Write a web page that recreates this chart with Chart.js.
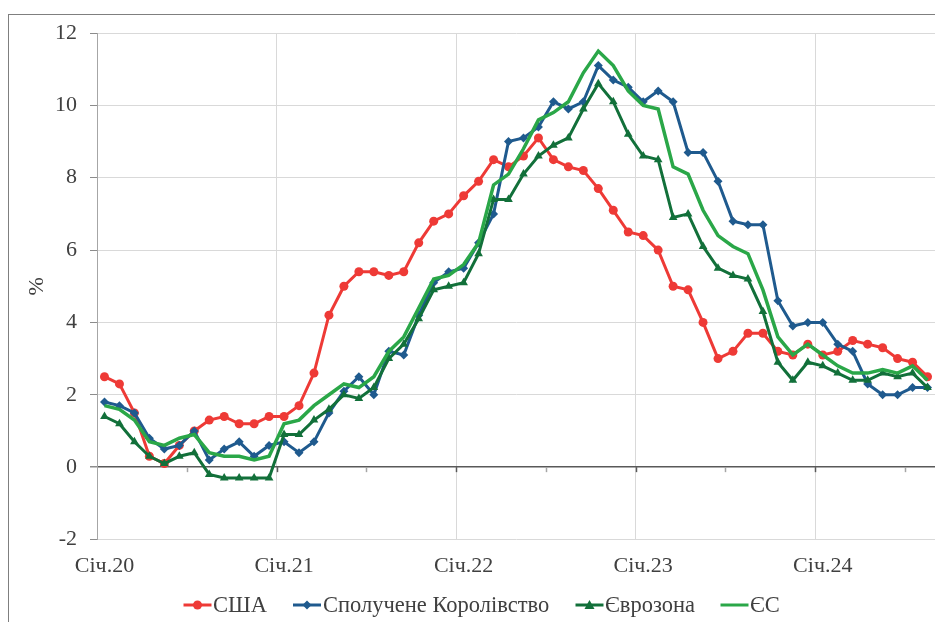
<!DOCTYPE html>
<html><head><meta charset="utf-8">
<script src="https://cdn.jsdelivr.net/npm/chart.js@4.4.1/dist/chart.umd.min.js"></script>
<style>
html,body{margin:0;padding:0;background:#fff;overflow:hidden}
#wrap{position:relative;width:935px;height:622px;overflow:hidden}
#c{position:absolute;left:0;top:0}
#frame{position:absolute;left:8px;top:14px;width:1000px;height:1000px;border-left:1px solid #7f7f7f;border-top:1px solid #7f7f7f;pointer-events:none}
.lg{position:absolute;top:592px;height:26px;display:flex;align-items:center;font:22.5px "Liberation Serif",serif;color:#404040;white-space:nowrap}
.lg svg{margin-right:1px}
</style></head>
<body><div id="wrap"><canvas id="c" width="940" height="622"></canvas><div id="frame"></div><div id="legend"></div></div>
<script>
const monthNames = ['Січ','Лют','Бер','Кві','Тра','Чер','Лип','Сер','Вер','Жов','Лис','Гру'];
const years = ['20','21','22','23','24'];
const categories = [];
years.forEach(y => monthNames.forEach(m => categories.push(m + '.' + y)));
categories.length = 56; // Січ.20 … Сер.24

const seriesNames = ['США','Сполучене Королівство','Єврозона','ЄС'];

const usa = [2.5,2.3,1.5,0.3,0.1,0.6,1.0,1.3,1.4,1.2,1.2,1.4,
             1.4,1.7,2.6,4.2,5.0,5.4,5.4,5.3,5.4,6.2,6.8,7.0,
             7.5,7.9,8.5,8.3,8.6,9.1,8.5,8.3,8.2,7.7,7.1,6.5,
             6.4,6.0,5.0,4.9,4.0,3.0,3.2,3.7,3.7,3.2,3.1,3.4,
             3.1,3.2,3.5,3.4,3.3,3.0,2.9,2.5];
const uk = [1.8,1.7,1.5,0.8,0.5,0.6,1.0,0.2,0.5,0.7,0.3,0.6,
            0.7,0.4,0.7,1.5,2.1,2.5,2.0,3.2,3.1,4.2,5.1,5.4,
            5.5,6.2,7.0,9.0,9.1,9.4,10.1,9.9,10.1,11.1,10.7,10.5,
            10.1,10.4,10.1,8.7,8.7,7.9,6.8,6.7,6.7,4.6,3.9,4.0,
            4.0,3.4,3.2,2.3,2.0,2.0,2.2,2.2];
const eurozone = [1.4,1.2,0.7,0.3,0.1,0.3,0.4,-0.2,-0.3,-0.3,-0.3,-0.3,
                  0.9,0.9,1.3,1.6,2.0,1.9,2.2,3.0,3.4,4.1,4.9,5.0,
                  5.1,5.9,7.4,7.4,8.1,8.6,8.9,9.1,9.9,10.6,10.1,9.2,
                  8.6,8.5,6.9,7.0,6.1,5.5,5.3,5.2,4.3,2.9,2.4,2.9,
                  2.8,2.6,2.4,2.4,2.6,2.5,2.6,2.2];
const eu = [1.7,1.6,1.3,0.7,0.6,0.8,0.9,0.4,0.3,0.3,0.2,0.3,
            1.2,1.3,1.7,2.0,2.3,2.2,2.5,3.2,3.6,4.4,5.2,5.3,
            5.6,6.2,7.8,8.1,8.8,9.6,9.8,10.1,10.9,11.5,11.1,10.4,
            10.0,9.9,8.3,8.1,7.1,6.4,6.1,5.9,4.9,3.6,3.1,3.4,
            3.1,2.8,2.6,2.6,2.7,2.6,2.8,2.4];

const yTicks = [-2,0,2,4,6,8,10,12];

const colors = ['#ee3a36','#1f5a8e','#12703a','#2aa748'];
const FONT = 'Liberation Serif';
const TXT = '#404040';

const zeroTicks = {
  id: 'zeroTicks',
  beforeDatasetsDraw(chart) {
    const xs = chart.scales.x, ys = chart.scales.y, c = chart.ctx;
    const half = (xs.getPixelForValue(1) - xs.getPixelForValue(0)) / 2;
    const y0 = ys.getPixelForValue(0);
    c.save();
    c.lineWidth = 1.5;
    for (let i = 6; i < categories.length; i += 6) {
      const x = Math.round(xs.getPixelForValue(i) - half) + 0.5;
      c.strokeStyle = (i % 12 === 0) ? '#595959' : '#a6a6a6';
      c.beginPath(); c.moveTo(x, y0); c.lineTo(x, y0 + 5); c.stroke();
    }
    c.restore();
  }
};

new Chart(document.getElementById('c').getContext('2d'), {
  type: 'line',
  data: {
    labels: categories,
    datasets: [
      {label: seriesNames[0], data: usa, borderColor: colors[0], backgroundColor: colors[0],
       pointStyle: 'circle', pointRadius: 4.5, pointHoverRadius: 4.5, pointBorderWidth: 0, borderWidth: 3, order: 3},
      {label: seriesNames[1], data: uk, borderColor: colors[1], backgroundColor: colors[1],
       pointStyle: 'rectRot', pointRadius: 4.5, pointHoverRadius: 4.5, pointBorderWidth: 0, borderWidth: 3, order: 2},
      {label: seriesNames[2], data: eurozone, borderColor: colors[2], backgroundColor: colors[2],
       pointStyle: 'triangle', pointRadius: 5, pointHoverRadius: 5, pointBorderWidth: 0, borderWidth: 3, order: 1},
      {label: seriesNames[3], data: eu, borderColor: colors[3], backgroundColor: colors[3],
       pointRadius: 0, pointHoverRadius: 0, borderWidth: 3.5, order: 0}
    ]
  },
  options: {
    responsive: false,
    animation: false,
    layout: {padding: {top: 33, right: 0, bottom: 42.5, left: 0}},
    plugins: {legend: {display: false}, tooltip: {enabled: false}},
    elements: {line: {tension: 0}},
    scales: {
      x: {
        type: 'category', offset: true,
        grid: {offset: true, drawTicks: false,
               color: (c) => (c.index % 12 === 0 ? '#d9d9d9' : 'rgba(0,0,0,0)')},
        border: {display: false},
        ticks: {autoSkip: false, maxRotation: 0, minRotation: 0, padding: 14,
                font: {family: FONT, size: 22}, color: TXT,
                callback: (v, i) => (i % 12 === 0 ? categories[i] : '')},
        afterFit: (s) => { s.height = 40; s.paddingLeft = 0; s.paddingRight = 0; }
      },
      y: {
        min: -2, max: 12,
        afterBuildTicks: (s) => { s.ticks = yTicks.map(v => ({value: v})); },
        ticks: {padding: 13, font: {family: FONT, size: 22}, color: TXT},
        grid: {color: (c) => (c.tick && c.tick.value === 0 ? '#595959' : '#d9d9d9'),
               lineWidth: (c) => (c.tick && c.tick.value === 0 ? 1.5 : 1),
               tickLength: 7, tickColor: '#8c8c8c'},
        border: {color: '#a6a6a6'},
        title: {display: true, text: '%', font: {family: FONT, size: 22}, color: TXT,
                padding: {top: 24, bottom: 0}},
        afterFit: (s) => { s.width = 97; s.paddingTop = 0; s.paddingBottom = 0; }
      }
    }
  },
  plugins: [zeroTicks]
});

// legend (line + marker like the reference)
const legendPos = [{line: 183, text: 212}, {line: 292, text: 322}, {line: 575, text: 604}, {line: 720, text: 749}];
const markers = [
  (c) => `<circle cx="14" cy="13" r="4.5" fill="${c}"/>`,
  (c) => `<polygon points="14,8.5 18.5,13 14,17.5 9.5,13" fill="${c}"/>`,
  (c) => `<polygon points="14,8 19,17 9,17" fill="${c}"/>`,
  () => ''
];
const lg = document.getElementById('legend');
seriesNames.forEach((name, i) => {
  const d = document.createElement('div');
  d.className = 'lg';
  d.style.left = legendPos[i].line + 'px';
  d.innerHTML = `<svg width="${legendPos[i].text - legendPos[i].line}" height="26" viewBox="0 0 28 26"><line x1="0" y1="13" x2="28" y2="13" stroke="${colors[i]}" stroke-width="3"/>${markers[i](colors[i])}</svg><span>${name}</span>`;
  lg.appendChild(d);
});
</script>
</body></html>
